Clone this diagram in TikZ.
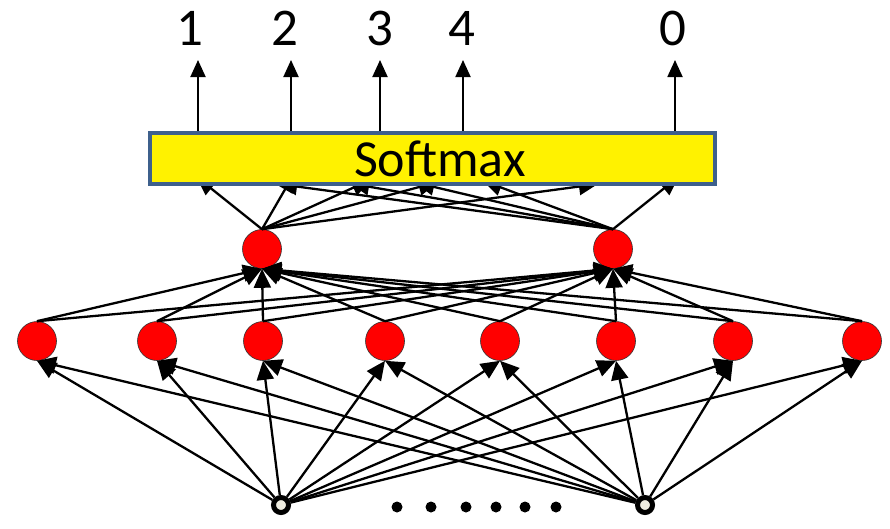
\documentclass[tikz,border=0pt]{standalone}
\usepackage{fontspec}
\setmainfont{Carlito}
\usetikzlibrary{arrows.meta}
\definecolor{boxblue}{RGB}{62,96,140}
\definecolor{cream}{RGB}{238,236,224}
\begin{document}
\begin{tikzpicture}[x=1pt,y=-1pt,
  neuron/.style={circle,fill=red,draw=black!80,line width=0.6pt,minimum size=39pt,inner sep=0pt},
  inp/.style={circle,fill=cream,draw=black,line width=5pt,minimum size=15pt,inner sep=0pt},
  conn/.style={line width=2.3pt,-{Triangle[length=19pt,width=17pt]}},
  outarrow/.style={line width=1.9pt,-{Triangle[length=17pt,width=15pt]}},
  dotn/.style={circle,fill=black,minimum size=11pt,inner sep=0pt},
  lab/.style={font=\fontsize{53}{60}\selectfont,inner sep=0pt}]
\useasboundingbox (0,0) rectangle (890,528);
% layer 1
\foreach \i/\x in {1/37,2/157,3/263,4/385,5/500,6/616,7/733,8/862}
  \node[neuron] (l\i) at (\x,341) {};
% layer 2
\node[neuron] (h1) at (262,249) {};
\node[neuron] (h2) at (613,249) {};
% inputs
\node[inp] (x1) at (281,505) {};
\node[inp] (x2) at (645,505) {};
\foreach \i/\x in {1/397,2/431,3/466,4/496,5/525,6/556}
  \node[dotn] (d\i) at (\x,507) {};
% input -> layer 1
\foreach \j in {1,...,8} {
  \draw[conn] (x1) -- (l\j.south);
  \draw[conn] (x2) -- (l\j.south);
}
% layer 1 -> layer 2
\foreach \j in {1,...,8} {
  \draw[conn] (l\j.north) -- (h1.south);
  \draw[conn] (l\j.north) -- (h2.south);
}
% layer 2 -> softmax
\foreach \i/\x in {1/208,2/287,3/357,4/423,5/583}
  \coordinate (a\i) at (\x,186);
\foreach \i/\x in {1/293,2/365,3/430,4/497,5/667}
  \coordinate (b\i) at (\x,186);
\foreach \i in {1,...,5} {
  \draw[conn,shorten >=-15pt] (h1.north) -- (a\i);
  \draw[conn,shorten >=-15pt] (h2.north) -- (b\i);
}
% softmax box
\node[draw=boxblue,fill=yellow,line width=4.5pt,minimum width=565pt,minimum height=51pt,
      inner sep=0pt,font=\fontsize{52}{60}\selectfont] (sm) at (432.5,158.5) {\hspace{15pt}Softmax};
% outputs
\foreach \i/\x/\t/\lx in {1/198/1/190,2/291/2/285,3/380/3/380,4/463/4/462,5/675/0/673} {
  \coordinate (o\i) at (\x,60);
  \node[lab] (t\i) at (\lx,28) {\t};
  \draw[outarrow] (sm.north -| o\i) -- (o\i);
}
\end{tikzpicture}
\end{document}
